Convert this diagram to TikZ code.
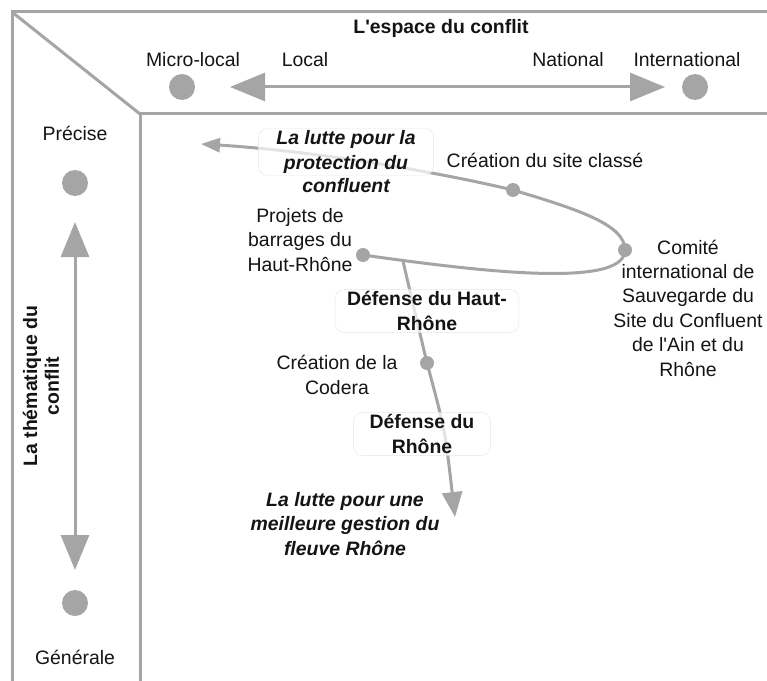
\documentclass[tikz,border=0pt]{standalone}
\usepackage{fontspec}
\setmainfont{Liberation Sans}
\usetikzlibrary{arrows.meta,positioning}
\definecolor{trait}{HTML}{A5A5A5}
\definecolor{bord}{HTML}{E6E6E6}

\begin{document}
\begin{tikzpicture}[
    x=1bp, y=-1bp,
    every node/.style={font=\fontsize{19.5}{24.5}\selectfont, align=center, text=black!92},
    pastille/.style={circle, fill=trait, minimum size=26bp, inner sep=0pt},
    point/.style={circle, fill=trait, minimum size=14bp, inner sep=0pt},
    cadre/.style={line width=3bp, trait},
    axe/.style={line width=3bp, trait, {Triangle[length=35bp,width=28bp]}-{Triangle[length=35bp,width=28bp]}},
    courbe/.style={line width=3bp, trait},
    etape/.style={draw=bord, rounded corners=9bp, fill=white, fill opacity=0.7, text opacity=1,
                  inner xsep=12bp, inner ysep=2bp, font=\fontsize{19.5}{24.5}\selectfont\bfseries},
    lutte/.style={font=\fontsize{19.5}{24.5}\selectfont\bfseries\itshape}
]
    \fill[white] (0,0) rectangle (767,681);
    \useasboundingbox (0,0) rectangle (767,681);

    % cadre
    \draw[cadre] (767,12) -- (12,12) -- (12,681);
    \draw[cadre] (767,114) -- (140,114) -- (140,681);
    \draw[cadre] (12,12) -- (140,114);

    % axe horizontal : l'espace
    \node[font=\fontsize{19.5}{24.5}\selectfont\bfseries] (ESP) at (441,28) {L\textquotesingle espace du conflit};
    \node (ML) at (193,60) {Micro-local};
    \node (LO) at (305,60) {Local};
    \node (NA) at (568,60) {National};
    \node (IN) at (687,60) {International};
    \node[pastille] (dML) at (182,87) {};
    \node[pastille] (dIN) at (695,87) {};
    \coordinate (gA) at (230,87);
    \coordinate (dA) at (665,87);
    \draw[axe] (gA) -- (dA);

    % axe vertical : la thematique
    \node (PR) at (75,133) {Précise};
    \node (GE) at (75,657) {Générale};
    \node[pastille] (dPR) at (75,183) {};
    \node[pastille] (dGE) at (75,603) {};
    \coordinate (hA) at (75,222);
    \coordinate (bA) at (75,570);
    \draw[axe] (hA) -- (bA);
    \node[rotate=90, font=\fontsize{19.5}{22}\selectfont\bfseries] (TH) at (41,386) {La thématique du\\conflit};

    % trajectoire
    \coordinate (P) at (363,255);
    \coordinate (C) at (625,250);
    \coordinate (S) at (513,190);
    \coordinate (D) at (427,363);
    \coordinate (A) at (201,144);
    \coordinate (B) at (403,261);
    \coordinate (E) at (455,517);
    \draw[courbe, -{Triangle[length=19bp,width=14bp]}] (P) .. controls (470,270) and (625,290) .. (C)
        .. controls (625,225) and (580,210) .. (S) .. controls (420,168) and (300,150) .. (A);
    \draw[courbe, -{Triangle[length=25bp,width=20bp]}] (B) .. controls (412,300) .. (D)
        .. controls (445,430) .. (E);
    \node[point] (dP) at (P) {};
    \node[point] (dC) at (C) {};
    \node[point] (dS) at (S) {};
    \node[point] (dD) at (D) {};

    % evenements
    \node (CS) at (545,160) {Création du site classé};
    \node (PB) at (300,240) {Projets de\\barrages du\\Haut-Rhône};
    \node (CC) at (337,375) {Création de la\\Codera};
    \node (CM) at (688,308) {Comité\\international de\\Sauvegarde du\\Site du Confluent\\de l\textquotesingle Ain et du\\Rhône};

    % phases
    \node[etape, lutte, inner xsep=18bp, label={[lutte, name=LPc, label distance=-1bp]below:confluent}] (LP) at (346,152)
        {La lutte pour la\\protection du};
    \node[etape] (DH) at (427,311) {Défense du Haut-\\Rhône};
    \node[etape, inner xsep=16bp] (DR) at (422,434) {Défense du\\Rhône};
    \node[lutte] (LG) at (345,524) {La lutte pour une\\meilleure gestion du\\fleuve Rhône};
\end{tikzpicture}
\end{document}
